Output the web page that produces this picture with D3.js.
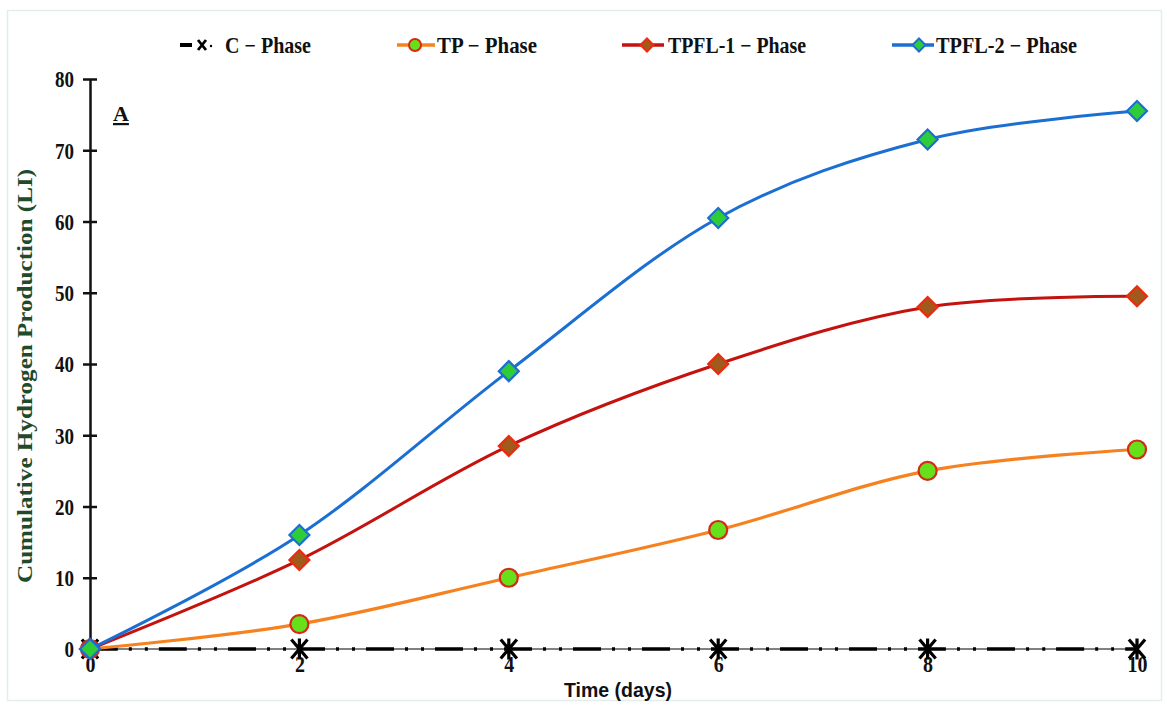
<!DOCTYPE html>
<html>
<head>
<meta charset="utf-8">
<script src="https://cdn.jsdelivr.net/npm/d3@7"></script>
<style>
  html, body { margin: 0; padding: 0; background: #ffffff; }
  svg { display: block; }
</style>
</head>
<body>
<svg id="chart" width="1167" height="705"></svg>
<script>
// ---- data ----
const days = [0, 2, 4, 6, 8, 10];
const xTicks = [0, 2, 4, 6, 8, 10];
const yTicks = [0, 10, 20, 30, 40, 50, 60, 70, 80];
const seriesNames = ["C \u2212 Phase", "TP \u2212 Phase", "TPFL-1 \u2212 Phase", "TPFL-2 \u2212 Phase"];
const cPhase = [0, 0, 0, 0, 0, 0];
const tpPhase = [0, 3.5, 10, 16.7, 25, 28];
const tpfl1Phase = [0, 12.5, 28.5, 40, 48, 49.5];
const tpfl2Phase = [0, 16, 39, 60.5, 71.5, 75.5];

const svg = d3.select("#chart");
const x = d3.scaleLinear().domain([0, 10]).range([90, 1137]);
const y = d3.scaleLinear().domain([0, 80]).range([649, 79]);
const serif = "'Liberation Serif', 'Times New Roman', serif";

// frame
svg.append("rect").attr("x", 7.5).attr("y", 10.5).attr("width", 1154).attr("height", 690)
  .attr("fill", "none").attr("stroke", "#e2eeee").attr("stroke-width", 1.5);

// x axis (thin baseline)
svg.append("line").attr("x1", x(0)).attr("x2", x(10)).attr("y1", y(0)).attr("y2", y(0))
  .attr("stroke", "#000").attr("stroke-width", 1);

// y axis
const yAxis = d3.axisLeft(y).tickValues(yTicks).tickSize(0).tickPadding(16).tickFormat(d3.format("d"));
const gy = svg.append("g").attr("transform", `translate(${x(0)},0)`).call(yAxis);
gy.select(".domain").attr("stroke", "#111").attr("stroke-width", 2.5);
gy.selectAll(".tick text").attr("font-family", serif)
  .attr("font-weight", "bold").attr("font-size", 23).attr("fill", "#111").attr("dy", "0.34em")
  .attr("textLength", d => String(d).length * 9.5).attr("lengthAdjust", "spacingAndGlyphs");
gy.selectAll(".tick").append("line").attr("x1", -7).attr("x2", 7).attr("stroke", "#111").attr("stroke-width", 2.5);

// x tick labels
const xAxis = d3.axisBottom(x).tickValues(xTicks).tickSize(0).tickPadding(8).tickFormat(d3.format("d"));
const gx = svg.append("g").attr("transform", `translate(0,${y(0)})`).call(xAxis);
gx.select(".domain").remove();
gx.selectAll(".tick text").attr("font-family", serif)
  .attr("font-weight", "bold").attr("font-size", 23).attr("fill", "#111").attr("dy", "0.65em")
  .attr("textLength", d => String(d).length * 10).attr("lengthAdjust", "spacingAndGlyphs");

// axis titles
svg.append("text").attr("transform", "translate(32,376) rotate(-90)")
  .attr("text-anchor", "middle").attr("font-family", serif)
  .attr("font-weight", "bold").attr("font-size", 21).attr("fill", "#1f4a2c")
  .attr("textLength", 414).attr("lengthAdjust", "spacingAndGlyphs")
  .text("Cumulative Hydrogen Production (LI)");
svg.append("text").attr("x", 618).attr("y", 697).attr("text-anchor", "middle")
  .attr("font-family", "'Liberation Sans', Arial, sans-serif").attr("font-weight", "bold")
  .attr("font-size", 19.5).attr("fill", "#111").text("Time (days)");

// panel label
svg.append("text").attr("x", 113).attr("y", 121).attr("font-family", serif)
  .attr("font-weight", "bold").attr("font-size", 22).attr("fill", "#111")
  .attr("text-decoration", "underline").text("A");

// series definitions
const series = [
  { name: seriesNames[0], values: cPhase, line: "#000", width: 3.5, dash: "28,11,3,13,3,11", marker: "star", fill: "none", stroke: "#000" },
  { name: seriesNames[1], values: tpPhase, line: "#f5821f", width: 3.2, dash: null, marker: "circle", fill: "#66e01a", stroke: "#d42a18" },
  { name: seriesNames[2], values: tpfl1Phase, line: "#c4120e", width: 3.0, dash: null, marker: "diamond", fill: "#a05a1c", stroke: "#ee2a10" },
  { name: seriesNames[3], values: tpfl2Phase, line: "#1c6fd2", width: 3.0, dash: null, marker: "diamond", fill: "#2fcc3a", stroke: "#1c6fd2" }
];

const lineGen = d3.line().x(d => x(d[0])).y(d => y(d[1])).curve(d3.curveCatmullRom.alpha(0));

function markerPath(type, s) {
  if (type === "diamond") return `M0,${-s}L${s},0L0,${s}L${-s},0Z`;
  if (type === "star") return `M${-s*0.85},${-s}L${s*0.85},${s}M${-s*0.85},${s}L${s*0.85},${-s}M0,${-s*1.1}L0,${s*1.1}`;
  return null;
}

function drawMarker(g, type, fill, stroke, cx, cy, s, sw) {
  if (type === "circle") {
    g.append("circle").attr("cx", cx).attr("cy", cy).attr("r", s)
      .attr("fill", fill).attr("stroke", stroke).attr("stroke-width", sw);
  } else {
    g.append("path").attr("d", markerPath(type, s)).attr("transform", `translate(${cx},${cy})`)
      .attr("fill", fill).attr("stroke", stroke).attr("stroke-width", type === "star" ? 3.2 : sw)
      .attr("stroke-linejoin", "miter");
  }
}

series.forEach(s => {
  const pts = days.map((d, i) => [d, s.values[i]]);
  const g = svg.append("g");
  const p = g.append("path").datum(pts).attr("d", lineGen).attr("fill", "none")
    .attr("stroke", s.line).attr("stroke-width", s.width);
  if (s.dash) p.attr("stroke-dasharray", s.dash);
  pts.forEach(pt => {
    const size = s.marker === "circle" ? 9 : (s.marker === "star" ? 9.5 : 10);
    drawMarker(g, s.marker, s.fill, s.stroke, x(pt[0]), y(pt[1]), size, 2.2);
  });
});

// legend
const legendPos = [
  { lx1: 180, lx2: 192, mx: 202, tx: 225, tw: 86 },
  { lx1: 397, lx2: 435, mx: 415, tx: 437, tw: 100 },
  { lx1: 622, lx2: 664, mx: 647, tx: 668, tw: 138 },
  { lx1: 892, lx2: 934, mx: 919, tx: 936, tw: 141 }
];
const ly = 45;
series.forEach((s, i) => {
  const lp = legendPos[i];
  const g = svg.append("g");
  g.append("line").attr("x1", lp.lx1).attr("x2", lp.lx2).attr("y1", ly).attr("y2", ly)
    .attr("stroke", s.line).attr("stroke-width", i === 0 ? 4 : 3.5);
  if (s.marker === "star") {
    g.append("path").attr("d", `M-4,-5L4,5M-4,5L4,-5`).attr("transform", `translate(${lp.mx},${ly})`)
      .attr("stroke", "#000").attr("stroke-width", 2.8).attr("fill", "none");
    g.append("circle").attr("cx", lp.mx + 9).attr("cy", ly + 1).attr("r", 1.2).attr("fill", "#000");
  } else {
    drawMarker(g, s.marker, s.fill, s.stroke, lp.mx, ly, s.marker === "circle" ? 6 : 6.5, 2);
  }
  g.append("text").attr("x", lp.tx).attr("y", ly + 8)
    .attr("font-family", serif)
    .attr("font-weight", "bold").attr("font-size", 22.5).attr("fill", "#111")
    .attr("textLength", lp.tw).attr("lengthAdjust", "spacingAndGlyphs")
    .text(s.name);
});
</script>
</body>
</html>
